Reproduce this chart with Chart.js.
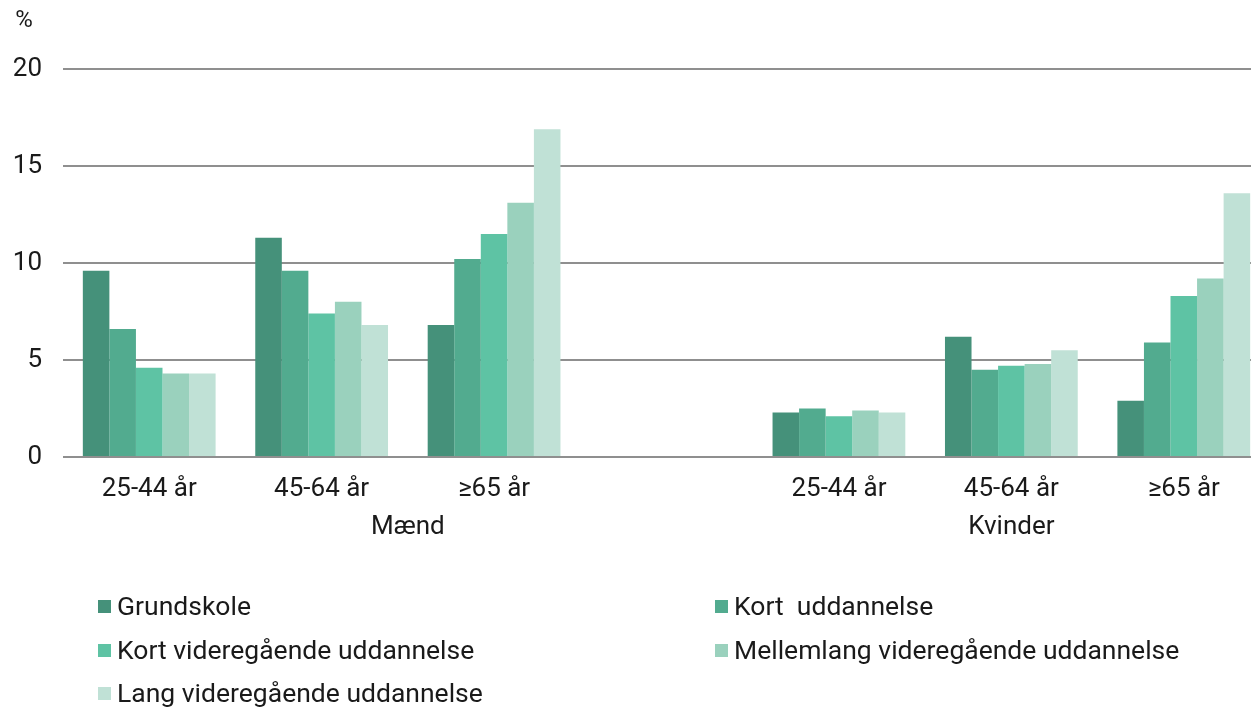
<!DOCTYPE html>
<html>
<head>
<meta charset="utf-8">
<script src="https://cdn.jsdelivr.net/npm/chart.js@4/dist/chart.umd.min.js"></script>
<style>
  html, body { margin: 0; padding: 0; background: #fff; overflow: hidden; }
  #wrap { position: relative; width: 1270px; height: 707px; }
  #legend { position: absolute; left: 0; top: 0; width: 1251px; height: 707px; pointer-events: none;
    font-family: Roboto, "Noto Sans", sans-serif; font-size: 26.5px; color: #1a1a1a; }
  .item { position: absolute; white-space: pre; line-height: 30px; }
  .item i { position: absolute; left: -19px; top: 9px; width: 13px; height: 13px; }
</style>
</head>
<body>
<div id="wrap">
  <canvas id="myChart" width="1270" height="707"></canvas>
  <div id="legend"></div>
</div>
<script>
// categories (slot 3 is the empty gap between the two groups)
const categories = ["25-44 år", "45-64 år", "≥65 år", "", "25-44 år", "45-64 år", "≥65 år"];
const groups = ["Mænd", "Kvinder"];

const seriesNames = [
  "Grundskole",
  "Kort  uddannelse",
  "Kort videregående uddannelse",
  "Mellemlang videregående uddannelse",
  "Lang videregående uddannelse",
];
const colors = ["#45917a", "#52ab8f", "#5ec3a4", "#9ad1bd", "#c0e1d6"];

const grundskole = [9.6, 11.3, 6.8, null, 2.3, 6.2, 2.9];
const kort = [6.6, 9.6, 10.2, null, 2.5, 4.5, 5.9];
const kortVideregaaende = [4.6, 7.4, 11.5, null, 2.1, 4.7, 8.3];
const mellemlang = [4.3, 8.0, 13.1, null, 2.4, 4.8, 9.2];
const lang = [4.3, 6.8, 16.9, null, 2.3, 5.5, 13.6];

const yTicks = [0, 5, 10, 15, 20];

const seriesData = [grundskole, kort, kortVideregaaende, mellemlang, lang];
const font = "Roboto, 'Noto Sans', sans-serif";

// group labels under the category labels
const groupLabels = {
  id: "groupLabels",
  afterDraw(chart) {
    const x = chart.scales.x;
    const ctx = chart.ctx;
    ctx.save();
    ctx.font = "26px " + font;
    ctx.fillStyle = "#1a1a1a";
    ctx.textAlign = "center";
    ctx.textBaseline = "middle";
    ctx.fillText(groups[0], (x.getPixelForValue(0) + x.getPixelForValue(3)) / 2, 527);
    ctx.fillText(groups[1], x.getPixelForValue(5), 527);
    // percent sign above the axis
    ctx.font = "24px " + font;
    ctx.fillText("%", 24, 21);
    ctx.restore();
  },
};

const ctx = document.getElementById("myChart");

new Chart(ctx, {
  type: "bar",
  data: {
    labels: categories,
    datasets: seriesNames.map((name, i) => ({
      label: name,
      data: seriesData[i],
      backgroundColor: colors[i],
      borderWidth: 0,
      categoryPercentage: 0.77,
      barPercentage: 1,
    })),
  },
  options: {
    responsive: false,
    animation: false,
    layout: { padding: { top: 69, right: 0, left: 0, bottom: 0 } },
    plugins: { legend: { display: false }, tooltip: { enabled: false } },
    scales: {
      x: {
        grid: { display: false },
        border: { display: false },
        ticks: { color: "#1a1a1a", font: { family: font, size: 26 }, padding: 9, maxRotation: 0 },
        afterFit: (scale) => { scale.height = 250; },
      },
      y: {
        min: 0,
        max: 20,
        afterBuildTicks: (scale) => { scale.ticks = yTicks.map((v) => ({ value: v })); },
        grid: { color: "#8f8f8f", lineWidth: 2, drawTicks: false },
        border: { display: false },
        ticks: { color: "#1a1a1a", font: { family: font, size: 26 }, padding: 21 },
        afterFit: (scale) => { scale.width = 63; },
      },
    },
  },
  plugins: [groupLabels],
});

// legend in two columns
const legend = document.getElementById("legend");
const legendPos = [[117, 591], [734, 591], [117, 635], [734, 635], [117, 678]];
seriesNames.forEach((name, i) => {
  const d = document.createElement("div");
  d.className = "item";
  d.style.left = legendPos[i][0] + "px";
  d.style.top = legendPos[i][1] + "px";
  d.innerHTML = '<i style="background:' + colors[i] + '"></i>' + name;
  legend.appendChild(d);
});
</script>
</body>
</html>
